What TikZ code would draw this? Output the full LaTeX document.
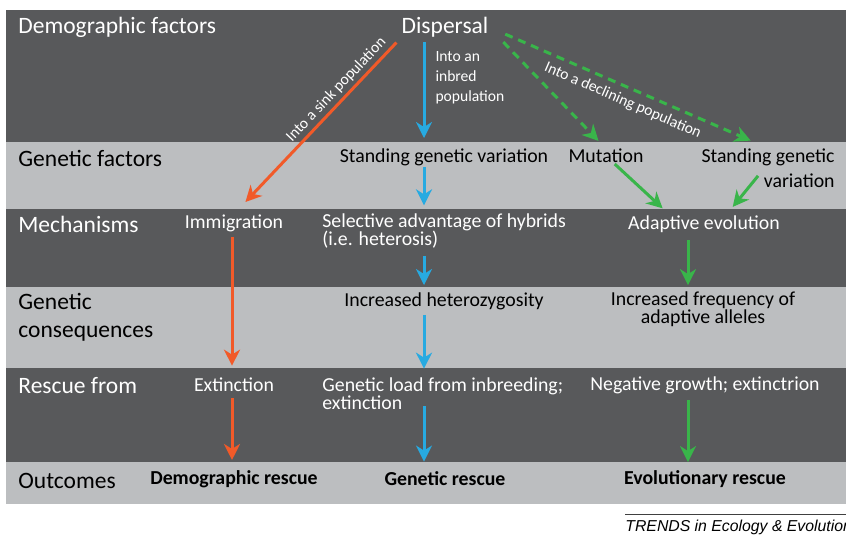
\documentclass[tikz,border=0pt]{standalone}
\usepackage{fontspec}
\setmainfont{Carlito}
\newfontfamily\trendsfont{Liberation Sans}
\usetikzlibrary{arrows.meta}
\definecolor{banddark}{RGB}{88,89,91}
\definecolor{bandlight}{RGB}{188,190,192}
\definecolor{rescuered}{RGB}{241,90,41}
\definecolor{rescueblue}{RGB}{39,170,225}
\definecolor{rescuegreen}{RGB}{57,181,74}

\begin{document}
\begin{tikzpicture}[x=0.5pt, y=-0.5pt,  rowlabel/.style={    anchor=west,    inner sep=0pt,    align=left,    font=\fontsize{11.75}{14}\selectfont  },  factor/.style={    inner sep=0pt,    align=center,    font=\fontsize{9.9}{9}\selectfont  },  outcome/.style={    inner sep=0pt,    font=\fontsize{9.9}{9}\selectfont\bfseries  },  pathlabel/.style={    text=white,    font=\fontsize{7.8}{10}\selectfont  },  arrow/.style={    line width=1.5pt,    -{Stealth[length=8pt, width=8pt, inset=2.5pt]}  },  redarrow/.style={arrow, rescuered},  bluearrow/.style={arrow, rescueblue},  greenarrow/.style={arrow, rescuegreen},  declarrow/.style={greenarrow, dash pattern=on 4pt off 3pt}]
		\useasboundingbox (0,0) rectangle (846,535);
		% Bands
		\fill[banddark] (6,10) rectangle (846,142);
		\fill[bandlight] (6,142) rectangle (846,209);
		\fill[banddark] (6,209) rectangle (846,287);
		\fill[bandlight] (6,287) rectangle (846,368);
		\fill[banddark] (6,368) rectangle (846,462);
		\fill[bandlight] (6,462) rectangle (846,504);
		\coordinate (redcol) at (232,0);
		\coordinate (bluecol) at (424,0);
		\coordinate (greencol) at (688,0);
		% Row labels
		\node[rowlabel, text=white] (rowdemo) at (18,27) {Demographic factors};
		\node[rowlabel] (rowgen) at (18,158) {Genetic factors};
		\node[rowlabel, text=white] (rowmech) at (18,224) {Mechanisms};
		\node[rowlabel] (rowcons) at (18,317) {Genetic\\consequences};
		\node[rowlabel, text=white] (rowfrom) at (18,386) {Rescue from};
		\node[rowlabel] (rowout) at (18,481) {Outcomes};
		% Nodes
		\node[factor, text=white, font=\fontsize{11.75}{14}\selectfont] (disp) at (445,27) {Dispersal};
		\node[factor] (sgvmid) at (444,157) {Standing genetic variation};
		\node[factor] (mut) at (606,156) {Mutation};
		\node[factor, align=right, anchor=east, font=\fontsize{9.9}{12.5}\selectfont] (sgvright) at (835,168) {Standing genetic\\variation};
		\node[factor, text=white] (immig) at (234,223) {Immigration};
		\node[factor, text=white, align=left, anchor=west] (hetadv) at (322,231) {Selective advantage of hybrids\\(i.e. heterosis)};
		\node[factor, text=white] (adapt) at (704,224) {Adaptive evolution};
		\node[factor] (hetzyg) at (444,301) {Increased heterozygosity};
		\node[factor] (incfreq) at (703,309) {Increased frequency of\\adaptive alleles};
		\node[factor, text=white] (extinct) at (234,385) {Extinction};
		\node[factor, text=white, align=left, anchor=west] (genload) at (322,394) {Genetic load from inbreeding;\\extinction};
		\node[factor, text=white] (neggrowth) at (705,385) {Negative growth; extinctrion};
		\node[outcome] (demres) at (234,479) {Demographic rescue};
		\node[outcome] (genres) at (445,479) {Genetic rescue};
		\node[outcome] (evores) at (705,479) {Evolutionary rescue};
		% Arrows
		\draw[redarrow, shorten <=3.5pt, shorten >=8.3pt] (disp.south west) -- (immig.north) node[pathlabel, sloped, above, pos=0.34, inner sep=1.5pt] (sinklabel) {Into a sink population};
		\draw[redarrow, shorten <=2.5pt, shorten >=6pt] (immig.south -| redcol) -- (extinct.north -| redcol);
		\draw[redarrow, shorten <=3pt, shorten >=5pt] (extinct.south -| redcol) -- (demres.north -| redcol);
		\draw[bluearrow, shorten <=2.5pt, shorten >=5pt] (disp.south -| bluecol) -- (sgvmid.north -| bluecol) node[pathlabel, right, align=left, inner sep=5pt, pos=0.36] (inbredlabel) {Into an\\inbred\\population};
		\draw[bluearrow, shorten <=0.5pt, shorten >=4pt] (sgvmid.south -| bluecol) -- (hetadv.north -| bluecol);
		\draw[bluearrow, shorten <=3.5pt, shorten >=3.5pt] (hetadv.south -| bluecol) -- (hetzyg.north -| bluecol);
		\draw[bluearrow, shorten <=2.5pt, shorten >=4.5pt] (hetzyg.south -| bluecol) -- (genload.north -| bluecol);
		\draw[bluearrow, shorten <=-2pt, shorten >=5pt] (genload.south -| bluecol) -- (genres.north -| bluecol);
		\draw[declarrow, shorten <=10.5pt, shorten >=5.4pt] (disp.east) -- (mut.north);
		\draw[declarrow, shorten <=9pt, shorten >=9.5pt] (disp.east) -- (sgvright.north) node[pathlabel, sloped, below, pos=0.5, inner sep=3pt] (decllabel) {Into a declining population};
		\draw[greenarrow, shorten <=0.5pt, shorten >=5pt] ([xshift=4pt]mut.south) -- ([xshift=-17pt]adapt.north);
		\draw[greenarrow, shorten >=5.3pt] ([xshift=-5pt, yshift=6pt]sgvright.south) -- ([xshift=11pt]adapt.north);
		\draw[greenarrow, shorten <=3.5pt, shorten >=3pt] (adapt.south -| greencol) -- (incfreq.north -| greencol);
		\draw[greenarrow, shorten <=3pt, shorten >=4pt] (neggrowth.south -| greencol) -- (evores.north -| greencol);
		% Footer
		\node[anchor=west, inner sep=0pt, font=\trendsfont\itshape\fontsize{7.9}{10}\selectfont] (trends) at (625,527) {TRENDS in Ecology \& Evolution};
		\draw[line width=0.6pt, black!75] ([yshift=2.5pt]trends.north west) -- ++(230,0);
	\end{tikzpicture}
\end{document}
